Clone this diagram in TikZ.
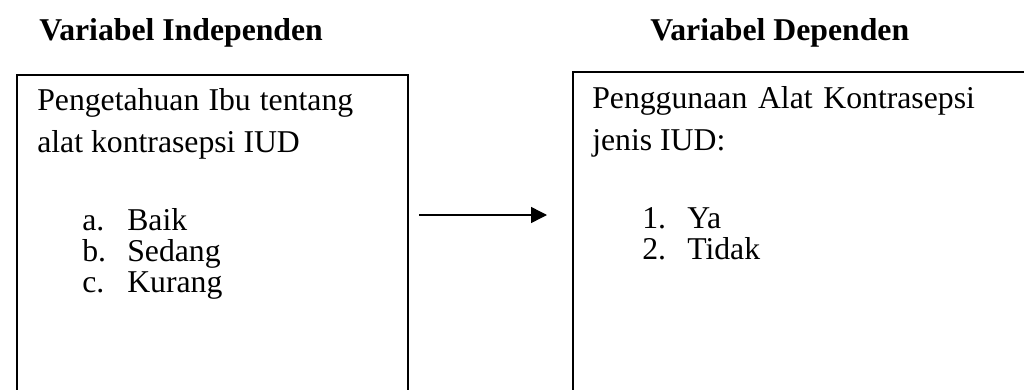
\documentclass[tikz,border=0pt]{standalone}
\usepackage{fontspec}
\setmainfont{Liberation Serif}
\usetikzlibrary{arrows.meta}
\begin{document}
\begin{tikzpicture}[x=0.75pt,y=-0.75pt,
  txt/.style={anchor=base west, inner sep=0pt, font=\fontsize{23.8}{28}\selectfont},
  ttl/.style={anchor=base west, inner sep=0pt, font=\fontsize{23.8}{28}\selectfont\bfseries},
  frame/.style={draw, line width=1.4pt, anchor=north west, inner sep=0pt},
  link/.style={draw, line width=1.1pt, -{Triangle[length=12pt,width=12pt]}}]
\useasboundingbox (0,0) rectangle (1024,389);
\clip (0,0) rectangle (1024,389);

% column headings
\node[ttl] (hind) at (39,40) {Variabel Independen};
\node[ttl] (hdep) at (650,40) {Variabel Dependen};

% boxes (open towards the bottom edge)
\node[frame, minimum width=293pt, minimum height=260pt] (indep) at (16,74) {};
\node[frame, minimum width=351pt, minimum height=262pt] (dep) at (572,71) {};

% independent variable
\node[txt] (i1) at (37,110) {\makebox[237pt][s]{Pengetahuan Ibu tentang}};
\node[txt] (i2) at (37,152) {alat kontrasepsi IUD};
\node[txt] (ia) at (82,230) {a.};
\node[txt] (ib) at (82,261) {b.};
\node[txt] (ic) at (82,292) {c.};
\node[txt] (iat) at (127,230) {Baik};
\node[txt] (ibt) at (127,261) {Sedang};
\node[txt] (ict) at (127,292) {Kurang};

% dependent variable
\node[txt] (d1) at (592,108) {\makebox[287pt][s]{Penggunaan Alat Kontrasepsi}};
\node[txt] (d2) at (592,150) {jenis IUD:};
\node[txt] (d1n) at (642,228) {1.};
\node[txt] (d2n) at (642,259) {2.};
\node[txt] (d1t) at (687,228) {Ya};
\node[txt] (d2t) at (687,259) {Tidak};

% relation arrow
\coordinate (from) at (419,215);
\coordinate (to) at (547,215);
\draw[link] (from) -- (to);
\end{tikzpicture}
\end{document}
